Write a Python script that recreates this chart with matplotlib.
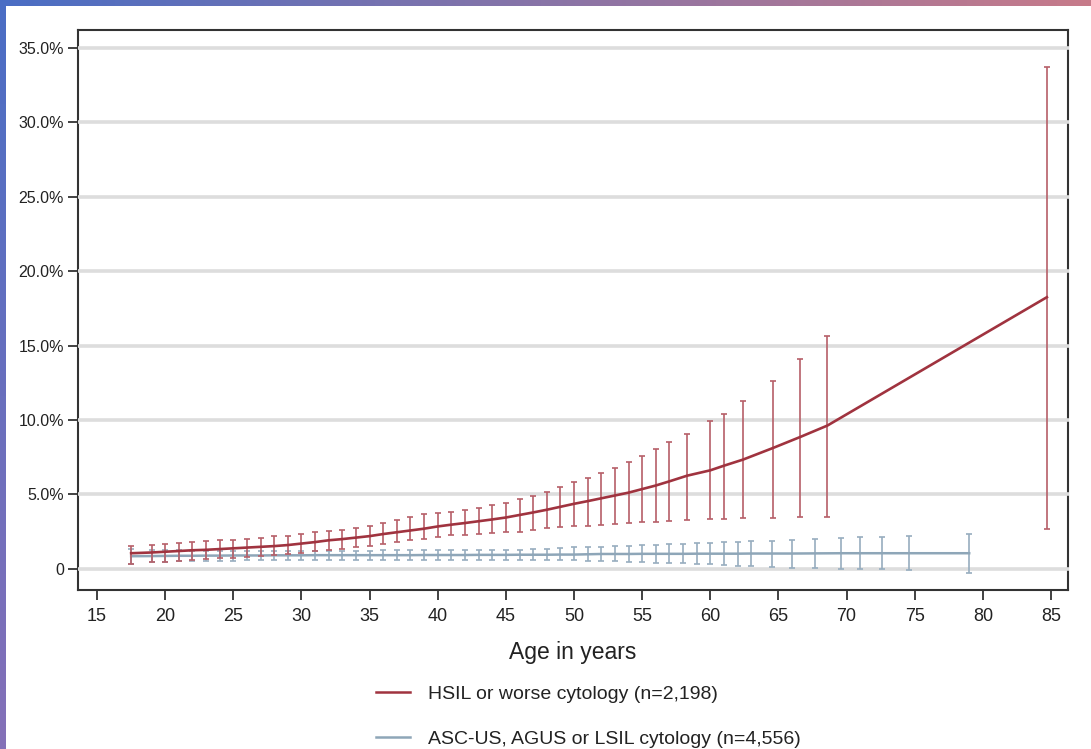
import numpy as np
import matplotlib
matplotlib.use("Agg")
import matplotlib.pyplot as plt
from matplotlib.lines import Line2D

plt.rcParams['font.family'] = ['Liberation Sans', 'DejaVu Sans']

# ---------------- data ----------------
red_age = [17.5, 19, 20, 21, 22, 23, 24, 25, 26, 27, 28, 29, 30, 31, 32, 33, 34, 35, 36, 37, 38, 39,
           40, 41, 42, 43, 44, 45, 46, 47, 48, 49, 50, 51, 52, 53, 54, 55, 56, 57, 58.3, 60, 61,
           62.4, 64.6, 66.6, 68.6, 84.7]
red_val = [1.05, 1.10, 1.15, 1.20, 1.25, 1.28, 1.33, 1.38, 1.43, 1.48, 1.53, 1.60, 1.70, 1.80, 1.92,
           2.00, 2.10, 2.20, 2.34, 2.46, 2.58, 2.70, 2.85, 2.97, 3.08, 3.20, 3.32, 3.45, 3.62, 3.79,
           3.97, 4.17, 4.37, 4.55, 4.74, 4.93, 5.12, 5.36, 5.60, 5.88, 6.26, 6.62, 6.93, 7.34, 8.12,
           8.86, 9.63, 18.25]
red_lo = [0.35, 0.45, 0.48, 0.54, 0.60, 0.64, 0.70, 0.76, 0.80, 0.86, 0.92, 0.98, 1.08, 1.20, 1.28,
          1.34, 1.44, 1.54, 1.70, 1.82, 1.94, 2.02, 2.14, 2.25, 2.30, 2.34, 2.38, 2.45, 2.50, 2.60,
          2.72, 2.80, 2.86, 2.90, 2.96, 3.02, 3.07, 3.12, 3.16, 3.20, 3.28, 3.32, 3.35, 3.40, 3.45,
          3.46, 3.46, 2.65]
red_hi = [1.55, 1.60, 1.68, 1.75, 1.80, 1.86, 1.92, 1.96, 2.02, 2.10, 2.18, 2.24, 2.34, 2.48, 2.56,
          2.64, 2.76, 2.88, 3.10, 3.28, 3.46, 3.66, 3.74, 3.84, 3.96, 4.10, 4.26, 4.44, 4.71, 4.91,
          5.18, 5.47, 5.81, 6.12, 6.44, 6.80, 7.18, 7.60, 8.02, 8.50, 9.09, 9.91, 10.43, 11.31,
          12.65, 14.07, 15.64, 33.7]

blue_age = [17.5, 19, 20, 21, 22, 23, 24, 25, 26, 27, 28, 29, 30, 31, 32, 33, 34, 35, 36, 37, 38, 39,
            40, 41, 42, 43, 44, 45, 46, 47, 48, 49, 50, 51, 52, 53, 54, 55, 56, 57, 58, 59, 60, 61,
            62, 63, 64.5, 66, 67.7, 69.6, 71.0, 72.6, 74.6, 79.0]
blue_val = [0.85, 0.86, 0.87, 0.88, 0.88, 0.89, 0.89, 0.90, 0.90, 0.90, 0.91, 0.91, 0.91, 0.92, 0.92,
            0.92, 0.92, 0.92, 0.92, 0.92, 0.92, 0.93, 0.93, 0.93, 0.93, 0.94, 0.94, 0.94, 0.95, 0.95,
            0.95, 0.96, 0.96, 0.98, 1.00, 1.00, 1.00, 1.01, 1.01, 1.01, 1.01, 1.02, 1.02, 1.02, 1.02,
            1.03, 1.03, 1.03, 1.04, 1.05, 1.05, 1.05, 1.05, 1.05]
blue_lo = [0.35, 0.45, 0.46, 0.50, 0.52, 0.54, 0.55, 0.56, 0.57, 0.58, 0.58, 0.59, 0.60, 0.60, 0.60,
           0.60, 0.60, 0.60, 0.60, 0.60, 0.60, 0.60, 0.60, 0.60, 0.60, 0.60, 0.60, 0.60, 0.60, 0.60,
           0.59, 0.59, 0.58, 0.55, 0.52, 0.50, 0.47, 0.43, 0.41, 0.39, 0.37, 0.34, 0.31, 0.27, 0.22,
           0.16, 0.11, 0.03, 0.03, 0.02, -0.02, -0.03, -0.10, -0.28]
blue_hi = [1.35, 1.28, 1.26, 1.24, 1.22, 1.22, 1.21, 1.20, 1.20, 1.20, 1.21, 1.21, 1.22, 1.22, 1.22,
           1.23, 1.23, 1.23, 1.24, 1.24, 1.24, 1.25, 1.25, 1.28, 1.28, 1.28, 1.28, 1.28, 1.30, 1.33,
           1.36, 1.40, 1.44, 1.47, 1.50, 1.53, 1.56, 1.60, 1.63, 1.66, 1.70, 1.74, 1.77, 1.80, 1.83,
           1.86, 1.90, 1.93, 2.00, 2.06, 2.13, 2.17, 2.24, 2.36]

x_ticks = [15, 20, 25, 30, 35, 40, 45, 50, 55, 60, 65, 70, 75, 80, 85]
y_ticks = [0, 5, 10, 15, 20, 25, 30, 35]
y_ticklabels = ["0", "5.0%", "10.0%", "15.0%", "20.0%", "25.0%", "30.0%", "35.0%"]
labels = ["HSIL or worse cytology (n=2,198)", "ASC-US, AGUS or LSIL cytology (n=4,556)"]

red_line = '#a0333f'
red_err = '#b65f68'
blue_line = '#8ea6b8'
blue_err = '#97adbf'

W, H = 1091, 749
fig = plt.figure(figsize=(W / 100, H / 100), dpi=100)
fig.patch.set_facecolor('white')

# gradient border: top and left
top = fig.add_axes([0, 1 - 6 / H, 1, 6 / H])
grad = np.linspace(0, 1, 256)
c0 = np.array([0.29, 0.43, 0.77])
c1 = np.array([0.78, 0.48, 0.54])
img = c0[None, :] * (1 - grad[:, None]) + c1[None, :] * grad[:, None]
top.imshow(img[None, :, :], aspect='auto', extent=[0, 1, 0, 1])
top.axis('off')
left = fig.add_axes([0, 0, 6 / W, 1])
c2 = np.array([0.52, 0.44, 0.72])
imgv = c0[None, :] * (1 - grad[:, None]) + c2[None, :] * grad[:, None]
left.imshow(imgv[:, None, :], aspect='auto', extent=[0, 1, 0, 1])
left.axis('off')

ax = fig.add_axes([78 / W, 1 - 590 / H, (1068 - 78) / W, (590 - 30) / H])
xmin, xmax = 13.6, 86.25
ax.set_xlim(xmin, xmax)
ax.set_ylim(-1.42, 36.2)

# horizontal grid lines (drawn over the right spine as in the reference)
for yv in y_ticks:
    ax.plot([xmin, xmax + 0.1], [yv, yv], color='#dddddd', lw=2.6, zorder=0.5, clip_on=False,
            solid_capstyle='butt')

rv = np.array(red_val)
bv = np.array(blue_val)
ax.errorbar(blue_age, bv, yerr=[bv - np.array(blue_lo), np.array(blue_hi) - bv],
            fmt='none', ecolor=blue_err, elinewidth=1.2, capsize=2.5, capthick=1.2, zorder=2)
ax.plot(blue_age, bv, color=blue_line, lw=1.8, zorder=2.2)
ax.errorbar(red_age, rv, yerr=[rv - np.array(red_lo), np.array(red_hi) - rv],
            fmt='none', ecolor=red_err, elinewidth=1.2, capsize=2.5, capthick=1.2, zorder=3)
ax.plot(red_age, rv, color=red_line, lw=1.9, zorder=3.2)

ax.set_xticks(x_ticks)
ax.set_xticklabels([str(t) for t in x_ticks])
ax.set_yticks(y_ticks)
ax.set_yticklabels(y_ticklabels)
ax.tick_params(axis='both', direction='out', length=7, width=1.3, color='#333333',
               labelcolor='#222222')
ax.tick_params(axis='y', pad=3, labelsize=11.5)
ax.tick_params(axis='x', pad=6, labelsize=13)
for s in ax.spines.values():
    s.set_color('#333333')
    s.set_linewidth(1.5)
    s.set_zorder(0.4)

fig.text(573 / W, 1 - 652 / H, "Age in years", ha='center', va='center', fontsize=16.5, color='#222222')

handles = [Line2D([0], [0], color=red_line, lw=1.8), Line2D([0], [0], color=blue_line, lw=1.8)]
fig.legend(handles, labels, loc='center left', bbox_to_anchor=(358 / W, 1 - 716.5 / H),
           frameon=False, fontsize=14, handlelength=1.75, handletextpad=0.95, labelspacing=1.4,
           labelcolor='#222222')

fig.savefig("out.png", dpi=100, facecolor='white')
